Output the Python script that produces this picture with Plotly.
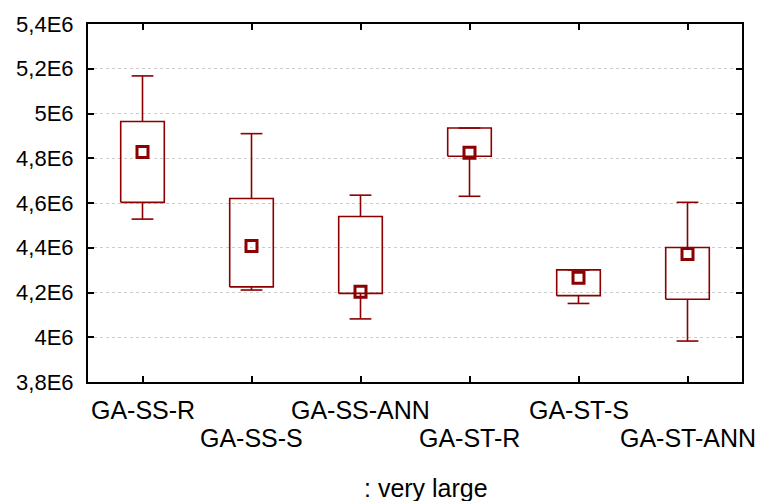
import plotly.graph_objects as go

categories = ["GA-SS-R", "GA-SS-S", "GA-SS-ANN", "GA-ST-R", "GA-ST-S", "GA-ST-ANN"]
q1 = [4.603e6, 4.225e6, 4.196e6, 4.809e6, 4.186e6, 4.170e6]
q3 = [4.964e6, 4.620e6, 4.540e6, 4.935e6, 4.301e6, 4.401e6]
median = [4.828e6, 4.408e6, 4.203e6, 4.825e6, 4.266e6, 4.372e6]
lower = [4.528e6, 4.211e6, 4.082e6, 4.630e6, 4.151e6, 3.983e6]
upper = [5.168e6, 4.910e6, 4.635e6, 4.935e6, 4.301e6, 4.603e6]
y_ticks = [3.8e6, 4.0e6, 4.2e6, 4.4e6, 4.6e6, 4.8e6, 5.0e6, 5.2e6, 5.4e6]
y_ticklabels = ["3,8E6", "4E6", "4,2E6", "4,4E6", "4,6E6", "4,8E6", "5E6", "5,2E6", "5,4E6"]
footer = ": very large"

COLOR = "#8B0000"
BOX_HALF = 0.2
CAP_HALF = 0.1
FONT = "Liberation Sans, Arial, sans-serif"

xs, ys = [], []
for i in range(len(categories)):
    # box rectangle
    xs += [i - BOX_HALF, i + BOX_HALF, i + BOX_HALF, i - BOX_HALF, i - BOX_HALF, None]
    ys += [q1[i], q1[i], q3[i], q3[i], q1[i], None]
    # upper whisker + cap
    xs += [i, i, None, i - CAP_HALF, i + CAP_HALF, None]
    ys += [q3[i], upper[i], None, upper[i], upper[i], None]
    # lower whisker + cap
    xs += [i, i, None, i - CAP_HALF, i + CAP_HALF, None]
    ys += [q1[i], lower[i], None, lower[i], lower[i], None]

fig = go.Figure()
fig.add_trace(go.Scatter(x=xs, y=ys, mode="lines",
                         line=dict(color=COLOR, width=1.6),
                         hoverinfo="skip", showlegend=False))
fig.add_trace(go.Scatter(x=list(range(len(categories))), y=median, mode="markers",
                         marker=dict(symbol="square-open", size=11,
                                     color=COLOR, line=dict(color=COLOR, width=3)),
                         showlegend=False))

for i, c in enumerate(categories):
    fig.add_annotation(x=i, xref="x", y=0, yref="paper", text=c, showarrow=False,
                       yanchor="middle", yshift=-28 if i % 2 == 0 else -56,
                       font=dict(family=FONT, size=25, color="black"))

fig.add_annotation(x=0.517, xref="paper", y=0, yref="paper", text=footer,
                   showarrow=False, yanchor="middle", yshift=-106,
                   font=dict(family=FONT, size=25, color="black"))

fig.update_layout(
    width=765, height=501,
    margin=dict(l=88, r=23, t=17, b=119),
    paper_bgcolor="white", plot_bgcolor="white",
    font=dict(family=FONT, color="black"),
)
fig.update_xaxes(range=[-0.5, len(categories) - 0.5],
                 tickvals=list(range(len(categories))), ticktext=[""] * len(categories),
                 showgrid=False, zeroline=False,
                 showline=True, linecolor="black", linewidth=2, mirror="ticks",
                 ticks="inside", ticklen=6, tickwidth=1.5, tickcolor="black")
fig.update_yaxes(range=[3.8e6, 5.4e6], tickvals=y_ticks, ticktext=y_ticklabels,
                 showgrid=True, gridcolor="#cccccc", griddash="dot", gridwidth=1,
                 zeroline=False,
                 showline=True, linecolor="black", linewidth=2, mirror="ticks",
                 ticks="inside", ticklen=6, tickwidth=1.5, tickcolor="black",
                 ticklabelstandoff=8,
                 tickfont=dict(family=FONT, size=22, color="black"))

fig.write_html("out.html")
